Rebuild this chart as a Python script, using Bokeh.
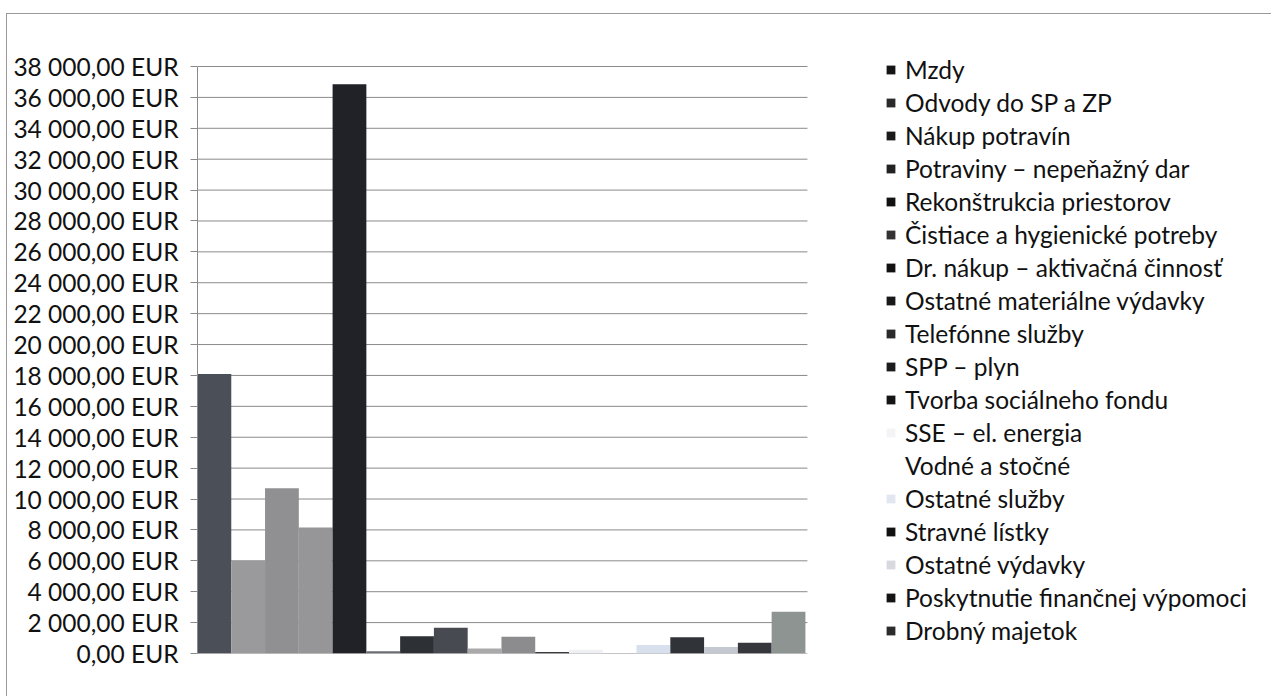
from bokeh.plotting import figure
from bokeh.models import Legend, LegendItem, Range1d, FixedTicker, ColumnDataSource
from bokeh.embed import file_html
from bokeh.resources import INLINE

# ---- data ----
categories = [
    "Mzdy",
    "Odvody do SP a ZP",
    "Nákup potravín",
    "Potraviny – nepeňažný dar",
    "Rekonštrukcia priestorov",
    "Čistiace a hygienické potreby",
    "Dr. nákup – aktivačná činnosť",
    "Ostatné materiálne výdavky",
    "Telefónne služby",
    "SPP – plyn",
    "Tvorba sociálneho fondu",
    "SSE – el. energia",
    "Vodné a stočné",
    "Ostatné služby",
    "Stravné lístky",
    "Ostatné výdavky",
    "Poskytnutie finančnej výpomoci",
    "Drobný majetok",
]
values = [18100, 6000, 10700, 8150, 36850, 150, 1120, 1670, 320, 1080,
          90, 250, 0, 550, 1050, 420, 700, 2710]
tick_values = [0, 2000, 4000, 6000, 8000, 10000, 12000, 14000, 16000, 18000,
               20000, 22000, 24000, 26000, 28000, 30000, 32000, 34000, 36000, 38000]
tick_labels = ["0,00 EUR", "2 000,00 EUR", "4 000,00 EUR", "6 000,00 EUR",
               "8 000,00 EUR", "10 000,00 EUR", "12 000,00 EUR", "14 000,00 EUR",
               "16 000,00 EUR", "18 000,00 EUR", "20 000,00 EUR", "22 000,00 EUR",
               "24 000,00 EUR", "26 000,00 EUR", "28 000,00 EUR", "30 000,00 EUR",
               "32 000,00 EUR", "34 000,00 EUR", "36 000,00 EUR", "38 000,00 EUR"]

# ---- styles ----
bar_colors = ["#4b5058", "#9a9a9c", "#909093", "#969698", "#202228", "#6a6c70",
              "#2d3035", "#474a50", "#a9a9a9", "#8c8c8e", "#3a3a3c", "#eef0f4",
              "#ffffff", "#d8e0ee", "#303338", "#c4c9d1", "#35373c", "#8e9492"]
legend_colors = ["#151515", "#2a2a2a", "#1a1a1a", "#222222", "#111111", "#333333",
                 "#111111", "#181818", "#2a2a2a", "#1c1c1c", "#141414", "#f4f4f6",
                 "#ffffff", "#e2e6f0", "#111111", "#d6dae0", "#141414", "#2c2c2c"]
FONT = "Lato"
N = len(categories)
PLOT_SLOTS = 31.83      # x extent of the frame (bars use the first N slots, legend the rest)
Y_TOP = 38776.8         # a little head-room above the 38 000 gridline for the legend

p = figure(width=1265, height=683, output_backend="svg", toolbar_location=None,
           x_range=Range1d(0, PLOT_SLOTS), y_range=Range1d(0, Y_TOP),
           min_border_left=190, min_border_right=0,
           min_border_top=40, min_border_bottom=44)
p.outline_line_color = None
p.background_fill_color = "white"
p.border_fill_color = "white"
p.grid.visible = False
p.xaxis.visible = False

# horizontal gridlines limited to the bar area
p.segment(x0=[0] * len(tick_values), x1=[N + 0.06] * len(tick_values),
          y0=tick_values, y1=tick_values, line_color="#8a8a8a", line_width=1)

# bars
src = ColumnDataSource(dict(x=[i + 0.5 for i in range(N)], top=values,
                            cat=categories, color=bar_colors))
p.vbar(x="x", top="top", width=1.0, fill_color="color", line_color=None, source=src)

# y axis
p.yaxis.bounds = (0, 38000)
p.yaxis.ticker = FixedTicker(ticks=tick_values)
p.yaxis.major_label_overrides = {v: s for v, s in zip(tick_values, tick_labels)}
p.yaxis.axis_line_color = "#8a8a8a"
p.yaxis.major_tick_line_color = "#8a8a8a"
p.yaxis.major_tick_out = 7
p.yaxis.major_tick_in = 0
p.yaxis.minor_tick_line_color = None
p.yaxis.major_label_standoff = 12
p.yaxis.major_label_text_font = FONT
p.yaxis.major_label_text_font_size = "24.5px"
p.yaxis.major_label_text_color = "#111111"

# legend (zero-height proxy bars provide the swatch colours)
proxy = p.vbar(x=[i + 0.5 for i in range(N)], top=[0] * N, width=1.0,
               fill_color=legend_colors, line_color=None)
items = [LegendItem(label=cat, renderers=[proxy], index=i)
         for i, cat in enumerate(categories)]
legend = Legend(items=items, location=(688, 8), padding=0, margin=0, spacing=4,
                glyph_width=11, glyph_height=11, label_standoff=9,
                label_text_font=FONT, label_text_font_size="24.5px",
                label_text_color="#111111", border_line_color=None,
                background_fill_alpha=0)
p.add_layout(legend, "center")

p.styles = {"border-top": "1px solid #9a9a9a", "border-left": "1px solid #9a9a9a",
            "margin-left": "6px", "margin-top": "13px"}

open("out.html", "w").write(file_html(p, INLINE))
